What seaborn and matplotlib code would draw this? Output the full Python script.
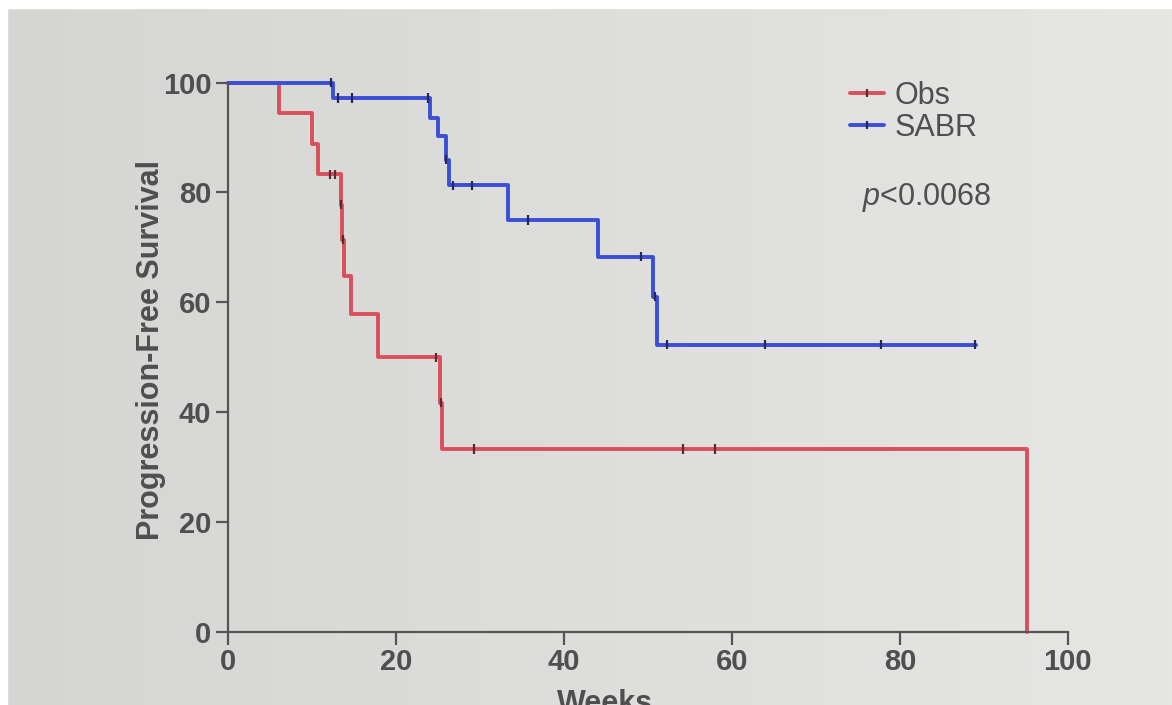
import numpy as np
import pandas as pd
import seaborn as sns
import matplotlib.pyplot as plt
from matplotlib.lines import Line2D
from matplotlib.patches import Rectangle

# Kaplan-Meier steps (weeks, % progression-free)
obs_weeks = [0, 6.1, 10.0, 10.75, 13.4, 13.6, 13.8, 14.7, 17.9, 25.3, 25.5, 95.1]
obs_pfs = [100, 94.4, 88.9, 83.3, 77.8, 71.4, 64.8, 57.8, 50.0, 41.7, 33.3, 0]
sabr_weeks = [0, 12.5, 24.0, 25.0, 26.0, 26.3, 33.3, 44.0, 50.6, 51.1, 89.0]
sabr_pfs = [100, 97.2, 93.5, 90.3, 86.0, 81.3, 75.0, 68.3, 61.0, 52.3, 52.3]

# censored observations
obs_cens_weeks = [12.1, 12.7, 13.5, 13.7, 24.8, 25.4, 29.3, 54.2, 58.0]
obs_cens_pfs = [83.3, 83.3, 77.8, 71.4, 50.0, 41.7, 33.3, 33.3, 33.3]
sabr_cens_weeks = [12.3, 13.1, 14.8, 23.8, 26.0, 26.8, 29.0, 35.7, 49.2, 50.8, 52.3, 63.9, 77.7, 88.9]
sabr_cens_pfs = [100, 97.2, 97.2, 97.2, 86.0, 81.3, 81.3, 75.0, 68.3, 61.0, 52.3, 52.3, 52.3, 52.3]

groups = ['Obs', 'SABR']
p_label = '$p$<0.0068'

curves = pd.concat([
    pd.DataFrame({'Weeks': obs_weeks, 'PFS': obs_pfs, 'group': 'Obs'}),
    pd.DataFrame({'Weeks': sabr_weeks, 'PFS': sabr_pfs, 'group': 'SABR'}),
])
cens = pd.concat([
    pd.DataFrame({'Weeks': obs_cens_weeks, 'PFS': obs_cens_pfs, 'group': 'Obs'}),
    pd.DataFrame({'Weeks': sabr_cens_weeks, 'PFS': sabr_cens_pfs, 'group': 'SABR'}),
])

line_colors = {'Obs': '#d8505b', 'SABR': '#3b4fd6'}
mark_colors = {'Obs': '#5a2a30', 'SABR': '#26285a'}
txt = '#4f4f4f'

sns.set_theme(style='ticks')
plt.rcParams['font.family'] = ['Liberation Sans', 'DejaVu Sans']
plt.rcParams['mathtext.fontset'] = 'custom'
plt.rcParams['mathtext.it'] = 'Liberation Sans:italic'
plt.rcParams['mathtext.rm'] = 'Liberation Sans'

fig = plt.figure(figsize=(11.72, 7.05), dpi=100)

# photographed slide background, slightly darker on the left
bg = fig.add_axes([0, 0, 1, 1], zorder=-5)
grad = np.linspace(0, 1, 256).reshape(1, -1)
bg.imshow(grad, cmap=sns.blend_palette(['#d5d5d3', '#e6e6e4'], as_cmap=True),
          aspect='auto', extent=[0, 1, 0, 1])
bg.set_xlim(0, 1)
bg.set_ylim(0, 1)
bg.axis('off')
fig.patches.append(Rectangle((0, 0.989), 1, 0.011, transform=fig.transFigure, color='white'))
fig.patches.append(Rectangle((0, 0), 0.006, 1, transform=fig.transFigure, color='white'))

ax = fig.add_axes([0.1945, 0.104, 0.7167, 0.7787])
ax.set_facecolor('none')

sns.lineplot(data=curves, x='Weeks', y='PFS', hue='group', palette=line_colors,
             drawstyle='steps-post', estimator=None, sort=False, lw=2.8,
             legend=False, ax=ax)
for ln in ax.lines:
    ln.set_clip_on(False)
sns.scatterplot(data=cens, x='Weeks', y='PFS', hue='group', palette=mark_colors,
                marker='|', s=45, linewidth=1.6, legend=False, ax=ax, zorder=5,
                clip_on=False)

ax.set_xlim(0, 100)
ax.set_ylim(0, 100)
ax.set_xticks(range(0, 101, 20))
ax.set_yticks(range(0, 101, 20))
for s in ['top', 'right']:
    ax.spines[s].set_visible(False)
for s in ['left', 'bottom']:
    ax.spines[s].set_color('#555555')
    ax.spines[s].set_linewidth(1.6)
ax.tick_params(length=9, width=1.6, color='#555555', labelcolor=txt, labelsize=21, pad=3)
for lab in ax.get_xticklabels() + ax.get_yticklabels():
    lab.set_fontweight('bold')

ax.set_ylabel('Progression-Free Survival', fontsize=22, fontweight='bold', color=txt)
ax.yaxis.set_label_coords(-0.074, 0.513)
ax.set_xlabel('Weeks', fontsize=22, fontweight='bold', color=txt)
ax.xaxis.set_label_coords(0.449, -0.104)

handles = [Line2D([0], [0], color=line_colors[g], lw=2.8, marker='|', markersize=6,
                  mec=mark_colors[g], mew=1.6) for g in groups]
leg = ax.legend(handles, groups, loc='upper left', bbox_to_anchor=(0.726, 1.025),
                frameon=False, fontsize=22, handlelength=1.1, handletextpad=0.35,
                labelspacing=0.05, borderaxespad=0, numpoints=1)
for t in leg.get_texts():
    t.set_color(txt)

ax.text(75.5, 79, p_label, fontsize=22, color=txt, ha='left', va='center')

fig.savefig('out.png', dpi=100)
